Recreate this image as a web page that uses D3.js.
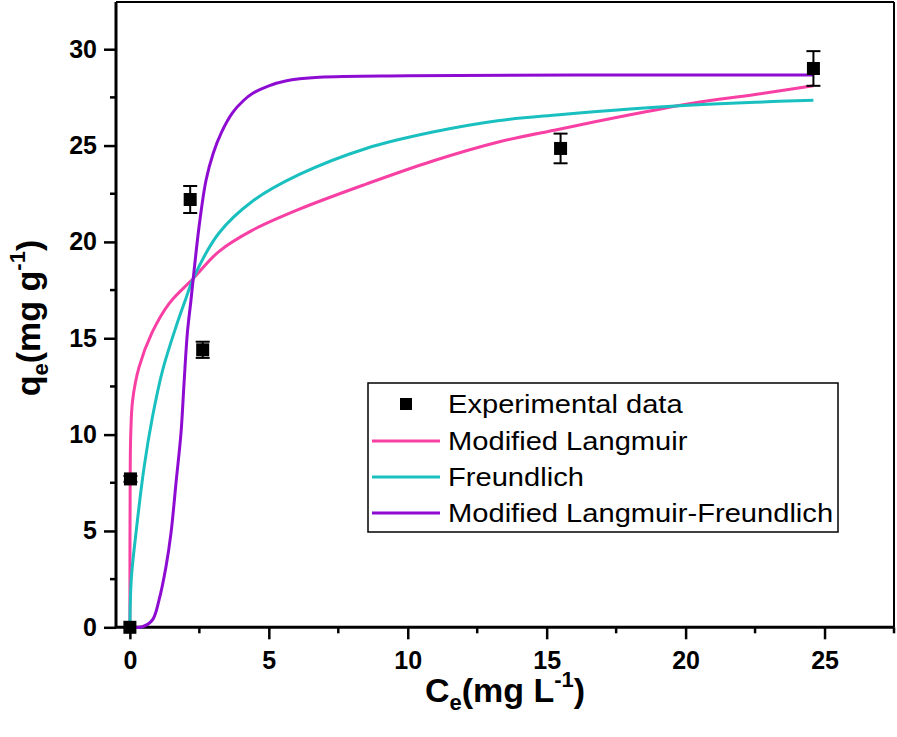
<!DOCTYPE html>
<html>
<head>
<meta charset="utf-8">
<script src="https://cdn.jsdelivr.net/npm/d3@7/dist/d3.min.js"></script>
<style>
  html, body { margin: 0; padding: 0; background: #fff; }
  svg { display: block; font-family: "Liberation Sans", Arial, Helvetica, sans-serif; }
</style>
</head>
<body>
<svg id="chart" width="897" height="737"></svg>
<script>
// ---- Data ----
const expX   = [0, 0.02, 2.17, 2.62, 15.5, 24.6];
const expY   = [0, 7.7, 22.2, 14.4, 24.85, 29.0];
const expErr = [0, 0.15, 0.7, 0.42, 0.77, 0.9];

const langX = [0, 0.003, 0.01, 0.03, 0.1, 0.33, 0.8, 1.41, 2.28, 3.2, 4.4, 6.1, 8.5, 10.9, 13.3, 15.45, 18, 20.25, 22.5, 24.6];
const langY = [0, 4.5, 7.6, 10.0, 11.8, 13.5, 15.3, 16.8, 18.1, 19.5, 20.6, 21.7, 23.0, 24.2, 25.2, 25.85, 26.6, 27.2, 27.65, 28.1];

const freuX = [0, 0.05, 0.22, 0.51, 0.81, 1.17, 1.66, 2.0, 2.28, 3.2, 4.4, 6.1, 8.5, 10.9, 13.3, 15.45, 18, 20.25, 22.5, 24.6];
const freuY = [0, 2.5, 4.9, 8.3, 10.9, 13.3, 15.6, 17.0, 18.1, 20.45, 22.1, 23.5, 24.85, 25.7, 26.3, 26.6, 26.9, 27.1, 27.25, 27.35];

const mlfX = [0, 0.45, 0.81, 1.05, 1.3, 1.48, 1.66, 1.84, 1.95, 2.07, 2.2, 2.28, 2.49, 2.74, 3.0, 3.3, 3.69, 4.1, 4.41, 5.0, 5.6, 6.81, 10, 16, 24.6];
const mlfY = [0, 0.03, 0.38, 1.42, 3.15, 4.9, 7.5, 10.1, 12.7, 15.3, 17.0, 18.1, 20.8, 23.2, 24.6, 25.7, 26.7, 27.35, 27.7, 28.1, 28.35, 28.54, 28.62, 28.66, 28.66];

const xTicks = [0, 5, 10, 15, 20, 25];
const yTicks = [0, 5, 10, 15, 20, 25, 30];
const xMinor = [2.5, 7.5, 12.5, 17.5, 22.5, 27.5];
const yMinor = [2.5, 7.5, 12.5, 17.5, 22.5, 27.5];

const seriesNames = ["Experimental data", "Modified Langmuir", "Freundlich", "Modified Langmuir-Freundlich"];
const seriesColors = ["#000000", "#f83fa3", "#1abfbf", "#8e0bd2"];

// ---- Layout ----
const svg = d3.select("#chart");
const L = 116, R = 894, T = 2, B = 627.3;
const x = d3.scaleLinear().domain([-0.5, 27.5]).range([L, R]);
const y = d3.scaleLinear().domain([0, 32.45]).range([B, T]);

// frame (top and right)
svg.append("line").attr("x1", L).attr("x2", R).attr("y1", T).attr("y2", T)
  .attr("stroke", "#000").attr("stroke-width", 2);
svg.append("line").attr("x1", R).attr("x2", R).attr("y1", T).attr("y2", B)
  .attr("stroke", "#000").attr("stroke-width", 2);

// axes
const xAxis = d3.axisBottom(x).tickValues(xTicks).tickSize(12).tickPadding(12).tickFormat(d3.format("d"));
const yAxis = d3.axisLeft(y).tickValues(yTicks).tickSize(12).tickPadding(7).tickFormat(d3.format("d"));

const gx = svg.append("g").attr("transform", `translate(0,${B})`).call(xAxis);
const gy = svg.append("g").attr("transform", `translate(${L},0)`).call(yAxis);

[gx, gy].forEach(g => {
  g.select(".domain").attr("stroke", "#000").attr("stroke-width", 3);
  g.selectAll(".tick line").attr("stroke", "#000").attr("stroke-width", 2.5);
  g.selectAll(".tick text").attr("fill", "#000").attr("font-size", 25).attr("font-weight", "bold")
    .attr("font-family", "'Liberation Sans', Arial, sans-serif");
});
gx.select(".domain").attr("d", `M${L},0H${R}`);
gy.select(".domain").attr("d", `M0,${B}V${T}`);

// minor ticks
svg.append("g").selectAll("line").data(xMinor).join("line")
  .attr("x1", d => x(d)).attr("x2", d => x(d)).attr("y1", B).attr("y2", B + 6)
  .attr("stroke", "#000").attr("stroke-width", 2.5);
svg.append("g").selectAll("line").data(yMinor).join("line")
  .attr("x1", L).attr("x2", L - 6).attr("y1", d => y(d)).attr("y2", d => y(d))
  .attr("stroke", "#000").attr("stroke-width", 2.5);

// curves
const line = d3.line().x(d => x(d[0])).y(d => y(d[1])).curve(d3.curveCatmullRom.alpha(0.5));
const curves = [
  { xs: langX, ys: langY, color: seriesColors[1] },
  { xs: freuX, ys: freuY, color: seriesColors[2] },
  { xs: mlfX,  ys: mlfY,  color: seriesColors[3] }
];
curves.forEach(c => {
  svg.append("path").datum(c.xs.map((v, i) => [v, c.ys[i]]))
    .attr("d", line).attr("fill", "none").attr("stroke", c.color)
    .attr("stroke-width", 3).attr("stroke-linejoin", "round");
});

// experimental points with error bars
const pts = expX.map((v, i) => ({ x: v, y: expY[i], e: expErr[i] }));
const gp = svg.append("g");
pts.forEach(p => {
  const cx = x(p.x);
  if (p.e > 0) {
    gp.append("line").attr("x1", cx).attr("x2", cx).attr("y1", y(p.y - p.e)).attr("y2", y(p.y + p.e))
      .attr("stroke", "#000").attr("stroke-width", 2);
    [p.y - p.e, p.y + p.e].forEach(v => {
      gp.append("line").attr("x1", cx - 7).attr("x2", cx + 7).attr("y1", y(v)).attr("y2", y(v))
        .attr("stroke", "#000").attr("stroke-width", 2);
    });
  }
  gp.append("rect").attr("x", cx - 6.5).attr("y", y(p.y) - 6.5).attr("width", 13).attr("height", 13)
    .attr("fill", "#000");
});

// legend
const lg = svg.append("g");
lg.append("rect").attr("x", 368).attr("y", 383).attr("width", 470).attr("height", 149)
  .attr("fill", "#fff").attr("stroke", "#000").attr("stroke-width", 1.5);
const rowY = [404, 441, 477, 513];
seriesNames.forEach((name, i) => {
  const cy = rowY[i];
  if (i === 0) {
    lg.append("rect").attr("x", 400).attr("y", cy - 6).attr("width", 12).attr("height", 12).attr("fill", "#000");
  } else {
    lg.append("line").attr("x1", 372).attr("x2", 440).attr("y1", cy).attr("y2", cy)
      .attr("stroke", seriesColors[i]).attr("stroke-width", 3);
  }
  lg.append("text").attr("transform", `translate(448,${cy + 9}) scale(1.12,1)`)
    .attr("font-size", 26).attr("fill", "#000").text(name);
});

// axis titles
const xt = svg.append("text").attr("x", 505).attr("y", 702).attr("text-anchor", "middle")
  .attr("font-size", 34).attr("font-weight", "bold").attr("fill", "#000");
xt.append("tspan").text("C");
xt.append("tspan").attr("font-size", 22).attr("dy", 8).text("e");
xt.append("tspan").attr("dy", -8).text("(mg L");
xt.append("tspan").attr("font-size", 22).attr("dy", -15).text("-1");
xt.append("tspan").attr("dy", 15).text(")");

const yt = svg.append("text").attr("transform", "translate(40,318) rotate(-90)").attr("text-anchor", "middle")
  .attr("font-size", 34).attr("font-weight", "bold").attr("fill", "#000");
yt.append("tspan").text("q");
yt.append("tspan").attr("font-size", 22).attr("dy", 8).text("e");
yt.append("tspan").attr("dy", -8).text("(mg g");
yt.append("tspan").attr("font-size", 22).attr("dy", -15).text("-1");
yt.append("tspan").attr("dy", 15).text(")");
</script>
</body>
</html>
